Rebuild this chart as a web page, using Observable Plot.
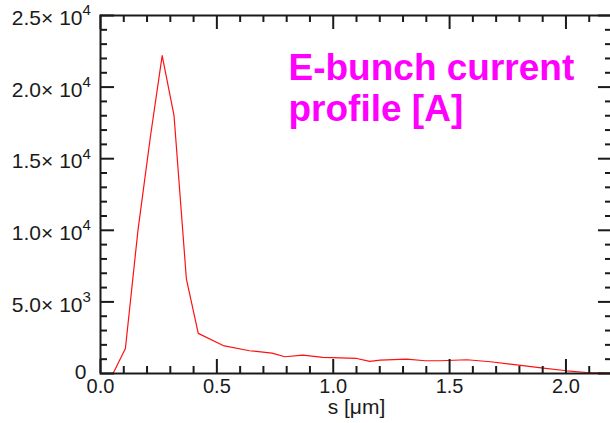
<!DOCTYPE html>
<html>
<head>
<meta charset="utf-8">
<script src="https://cdn.jsdelivr.net/npm/d3@7"></script>
<script src="https://cdn.jsdelivr.net/npm/@observablehq/plot@0.6"></script>
<style>
  html, body { margin: 0; padding: 0; background: #fff; }
  #chart svg { display: block; font-family: "Liberation Sans", Arial, sans-serif; }
</style>
</head>
<body>
<div id="chart"></div>
<script>
// Data
const sValues = [0, 0.054, 0.107, 0.161, 0.215, 0.265, 0.316, 0.369, 0.420, 0.527, 0.640, 0.737, 0.792, 0.870, 0.955, 1.101, 1.157, 1.202, 1.316, 1.395, 1.459, 1.574, 1.676, 1.788, 1.903, 2.003, 2.089, 2.19, 2.2];
const currentValues = [0, 0, 1750, 10000, 16600, 22200, 18000, 6600, 2800, 1950, 1590, 1420, 1170, 1280, 1120, 1050, 850, 940, 1000, 890, 890, 960, 820, 600, 380, 190, 70, 28, 20];

const xMajorTicks = [0, 0.5, 1.0, 1.5, 2.0];
const xTickLabels = ["0.0", "0.5", "1.0", "1.5", "2.0"];
const xMinorTicks = [0.1, 0.2, 0.3, 0.4, 0.6, 0.7, 0.8, 0.9, 1.1, 1.2, 1.3, 1.4, 1.6, 1.7, 1.8, 1.9, 2.1];
const yMajorTicks = [0, 5000, 10000, 15000, 20000, 25000];
const yTickMantissa = ["0", "5.0× 10", "1.0× 10", "1.5× 10", "2.0× 10", "2.5× 10"];
const yTickExponent = ["", "3", "4", "4", "4", "4"];
const yMinorTicks = [1000, 2000, 3000, 4000, 6000, 7000, 8000, 9000, 11000, 12000, 13000, 14000, 16000, 17000, 18000, 19000, 21000, 22000, 23000, 24000];
const xLabel = "s [μm]";
const titleText = "E-bunch current\nprofile [A]";

const data = sValues.map((s, i) => ({s, current: currentValues[i]}));
const yLabels = yMajorTicks.map((v, i) => ({v, m: yTickMantissa[i], e: yTickExponent[i]}));
const xLabels = xMajorTicks.map((v, i) => ({v, t: xTickLabels[i]}));

const W = 610, H = 423, ML = 100, MR = -2, MT = 15, MB = 50;
const frameW = W - ML - MR, frameH = H - MT - MB;
const majorLen = 14, minorLen = 7;
const ink = "#1a1a1a";

const chart = Plot.plot({
  width: W,
  height: H,
  marginLeft: ML,
  marginRight: MR,
  marginTop: MT,
  marginBottom: MB,
  style: {fontFamily: "Liberation Sans, Arial, sans-serif", background: "white"},
  x: {domain: [0, 2.2], axis: null},
  y: {domain: [0, 25000], axis: null},
  marks: [
    // data line
    Plot.line(data, {x: "s", y: "current", stroke: "#ff1010", strokeWidth: 1.2}),
    // inward ticks: bottom and top
    Plot.tickX(xMajorTicks, {x: d => d, insetTop: frameH - majorLen, stroke: ink, strokeWidth: 2}),
    Plot.tickX(xMinorTicks, {x: d => d, insetTop: frameH - minorLen, stroke: ink, strokeWidth: 2}),
    Plot.tickX(xMajorTicks, {x: d => d, insetBottom: frameH - majorLen, stroke: ink, strokeWidth: 2}),
    Plot.tickX(xMinorTicks, {x: d => d, insetBottom: frameH - minorLen, stroke: ink, strokeWidth: 2}),
    // inward ticks: left and right
    Plot.tickY(yMajorTicks, {y: d => d, insetRight: frameW - majorLen, stroke: ink, strokeWidth: 2}),
    Plot.tickY(yMinorTicks, {y: d => d, insetRight: frameW - minorLen, stroke: ink, strokeWidth: 2}),
    Plot.tickY(yMajorTicks, {y: d => d, insetLeft: frameW - majorLen, stroke: ink, strokeWidth: 2}),
    Plot.tickY(yMinorTicks, {y: d => d, insetLeft: frameW - minorLen, stroke: ink, strokeWidth: 2}),
    Plot.frame({stroke: ink, strokeWidth: 2}),
    // y tick labels
    Plot.text(yLabels.filter(d => d.e !== ""), {y: "v", text: "m", frameAnchor: "left", textAnchor: "end", dx: -18, dy: 3, fontSize: 21, fill: ink}),
    Plot.text(yLabels.filter(d => d.e !== ""), {y: "v", text: "e", frameAnchor: "left", textAnchor: "start", dx: -18, dy: -5, fontSize: 15, fill: ink}),
    Plot.text(yLabels.filter(d => d.e === ""), {y: "v", text: "m", frameAnchor: "left", textAnchor: "end", dx: -14, dy: -1, fontSize: 21, fill: ink}),
    // x tick labels
    Plot.text(xLabels, {x: "v", text: "t", frameAnchor: "bottom", lineAnchor: "top", dy: 5, fontSize: 20, fill: ink}),
    // x axis title
    Plot.text([xLabel], {frameAnchor: "bottom", lineAnchor: "top", dy: 26, fontSize: 21, fill: ink}),
    // magenta title
    Plot.text([titleText], {frameAnchor: "top-left", textAnchor: "start", lineAnchor: "top", dx: 188, dy: 35, fontSize: 37, fontWeight: "bold", lineHeight: 1.12, fill: "#ff00ff"})
  ]
});
document.getElementById("chart").appendChild(chart);
</script>
</body>
</html>
